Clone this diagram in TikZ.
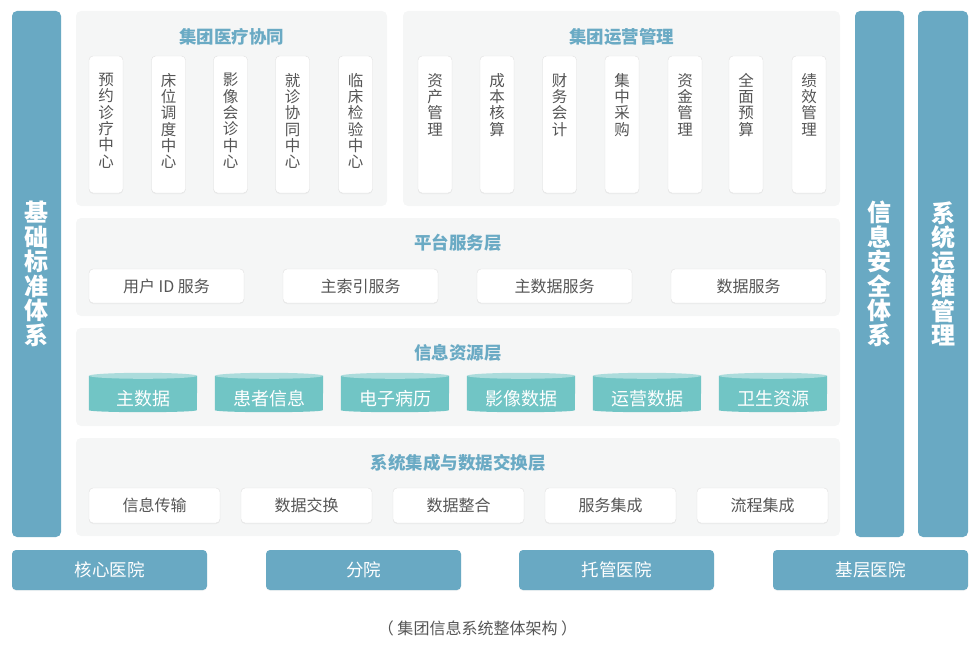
\documentclass[tikz,border=0pt]{standalone}
\usepackage{fontspec}
\setmainfont{Noto Sans CJK SC}
\usepackage{xcolor}
\usepackage{tikz}
\usetikzlibrary{shadows}

\definecolor{barblue}{HTML}{69A9C3}
\definecolor{paneltint}{HTML}{F5F6F6}
\definecolor{titleblue}{HTML}{6AAAC4}
\definecolor{cylbody}{HTML}{71C5C5}
\definecolor{cyltop}{HTML}{ACDCDC}
\definecolor{textgray}{HTML}{555555}

\begin{document}
\begin{tikzpicture}[x=1pt, y=-1pt,
	panel/.style={fill=paneltint, rounded corners=5pt, inner sep=0pt},
	sidebar/.style={fill=barblue, rounded corners=5pt, inner sep=0pt, minimum height=526pt},
	bartext/.style={text=white, font=\fontsize{24}{24.5}\selectfont\bfseries, align=center, inner sep=0pt},
	layertitle/.style={text=titleblue, font=\fontsize{17.5}{18}\selectfont\bfseries, inner sep=0pt},
	whitebox/.style={fill=white, draw=black!12, rounded corners=4pt, inner sep=0pt, text=textgray,
		drop shadow={shadow xshift=0pt, shadow yshift=-1pt, opacity=0.08}},
	colbox/.style={whitebox, minimum width=34pt, minimum height=137pt},
	coltext/.style={anchor=north, inner sep=0pt, align=center, text=textgray, font=\fontsize{15.5}{16.3}\selectfont},
	svcbox/.style={whitebox, minimum width=155pt, minimum height=34pt, font=\fontsize{16}{16}\selectfont},
	intbox/.style={whitebox, minimum width=131pt, minimum height=35pt, font=\fontsize{16}{16}\selectfont},
	dbslot/.style={minimum width=108pt, minimum height=39pt, inner sep=0pt},
	dbtext/.style={text=white, inner sep=0pt, font=\fontsize{18}{18}\selectfont},
	hospbox/.style={fill=barblue, rounded corners=4pt, minimum width=195pt, minimum height=40pt, inner sep=0pt,
		text=white, font=\fontsize{17.5}{18}\selectfont,
		drop shadow={shadow xshift=0pt, shadow yshift=-1pt, opacity=0.08}}]
	\useasboundingbox (0,0) rectangle (980,650);

	% side bars
	\node[sidebar, minimum width=49pt] (std) at (36.5,274) {};
	\node[bartext] (stdtxt) at (std.center) {基\\础\\标\\准\\体\\系};
	\node[sidebar, minimum width=49pt] (sec) at (879.5,274) {};
	\node[bartext] (sectxt) at (sec.center) {信\\息\\安\\全\\体\\系};
	\node[sidebar, minimum width=50pt] (ops) at (943,274) {};
	\node[bartext] (opstxt) at (ops.center) {系\\统\\运\\维\\管\\理};

	% layer panels
	\node[panel, minimum width=311pt, minimum height=195pt] (med) at (231.5,108.5) {};
	\node[panel, minimum width=437pt, minimum height=195pt] (mgmt) at (621.5,108.5) {};
	\node[panel, minimum width=764pt, minimum height=98pt] (plat) at (458,267) {};
	\node[panel, minimum width=764pt, minimum height=98pt] (res) at (458,377) {};
	\node[panel, minimum width=764pt, minimum height=98pt] (integ) at (458,487) {};

	\node[layertitle] (medtitle) at (231.5,37) {集团医疗协同};
	\node[layertitle] (mgmttitle) at (621.5,37) {集团运营管理};
	\node[layertitle] (plattitle) at (458,243) {平台服务层};
	\node[layertitle] (restitle) at (458,353) {信息资源层};
	\node[layertitle] (integtitle) at (458,463) {系统集成与数据交换层};

	% medical collaboration
	\node[colbox] (yyzl) at (106,124.5) {};
	\node[coltext] at (106,73) {预\\约\\诊\\疗\\中\\心};
	\node[colbox] (cwdd) at (168.5,124.5) {};
	\node[coltext] at (168.5,73) {床\\位\\调\\度\\中\\心};
	\node[colbox] (yxhz) at (230.5,124.5) {};
	\node[coltext] at (230.5,73) {影\\像\\会\\诊\\中\\心};
	\node[colbox] (jzxt) at (292.5,124.5) {};
	\node[coltext] at (292.5,73) {就\\诊\\协\\同\\中\\心};
	\node[colbox] (lcjy) at (355.5,124.5) {};
	\node[coltext] at (355.5,73) {临\\床\\检\\验\\中\\心};

	% operations management
	\node[colbox] (zcgl) at (435,124.5) {};
	\node[coltext] at (435,73) {资\\产\\管\\理};
	\node[colbox] (cbhs) at (497,124.5) {};
	\node[coltext] at (497,73) {成\\本\\核\\算};
	\node[colbox] (cwkj) at (559.5,124.5) {};
	\node[coltext] at (559.5,73) {财\\务\\会\\计};
	\node[colbox] (jzcg) at (622,124.5) {};
	\node[coltext] at (622,73) {集\\中\\采\\购};
	\node[colbox] (zjgl) at (685,124.5) {};
	\node[coltext] at (685,73) {资\\金\\管\\理};
	\node[colbox] (qmys) at (746,124.5) {};
	\node[coltext] at (746,73) {全\\面\\预\\算};
	\node[colbox] (jxgl) at (809,124.5) {};
	\node[coltext] at (809,73) {绩\\效\\管\\理};

	% platform services
	\node[svcbox] (uid) at (166.5,286) {用户 ID 服务};
	\node[svcbox] (mpi) at (360.5,286) {主索引服务};
	\node[svcbox] (mdm) at (554.5,286) {主数据服务};
	\node[svcbox] (dsv) at (748.5,286) {数据服务};

	% information resources
	\node[dbslot] (zsj) at (143,392.5) {};
	\node[dbslot] (hzxx) at (269,392.5) {};
	\node[dbslot] (dzbl) at (395,392.5) {};
	\node[dbslot] (yxsj) at (521,392.5) {};
	\node[dbslot] (yysj) at (647,392.5) {};
	\node[dbslot] (wszy) at (773,392.5) {};
	\foreach \db in {zsj,hzxx,dzbl,yxsj,yysj,wszy} {
		\fill[cylbody] ([yshift=-3pt]\db.north west) -- ([yshift=2pt]\db.south west)
			arc[start angle=180, end angle=360, x radius=54pt, y radius=2pt] -- ([yshift=-3pt]\db.north east) -- cycle;
		\fill[cyltop] ([yshift=-3pt]\db.north) ellipse[x radius=54pt, y radius=3pt];
	}
	\node[dbtext] at (143,399) {主数据};
	\node[dbtext] at (269,399) {患者信息};
	\node[dbtext] at (395,399) {电子病历};
	\node[dbtext] at (521,399) {影像数据};
	\node[dbtext] at (647,399) {运营数据};
	\node[dbtext] at (773,399) {卫生资源};

	% integration and exchange
	\node[intbox] (xxcs) at (154.5,505.5) {信息传输};
	\node[intbox] (sjjh) at (306.5,505.5) {数据交换};
	\node[intbox] (sjzh) at (458.5,505.5) {数据整合};
	\node[intbox] (fwjc) at (610.5,505.5) {服务集成};
	\node[intbox] (lcjc) at (762.5,505.5) {流程集成};

	% hospitals
	\node[hospbox] (hxyy) at (109.5,570) {核心医院};
	\node[hospbox] (fy) at (363.5,570) {分院};
	\node[hospbox] (tgyy) at (616.5,570) {托管医院};
	\node[hospbox] (jcyy) at (870.5,570) {基层医院};

	\node[text=textgray, font=\fontsize{16}{16}\selectfont] (caption) at (477.5,628) {（ 集团信息系统整体架构 ）};
\end{tikzpicture}
\end{document}
